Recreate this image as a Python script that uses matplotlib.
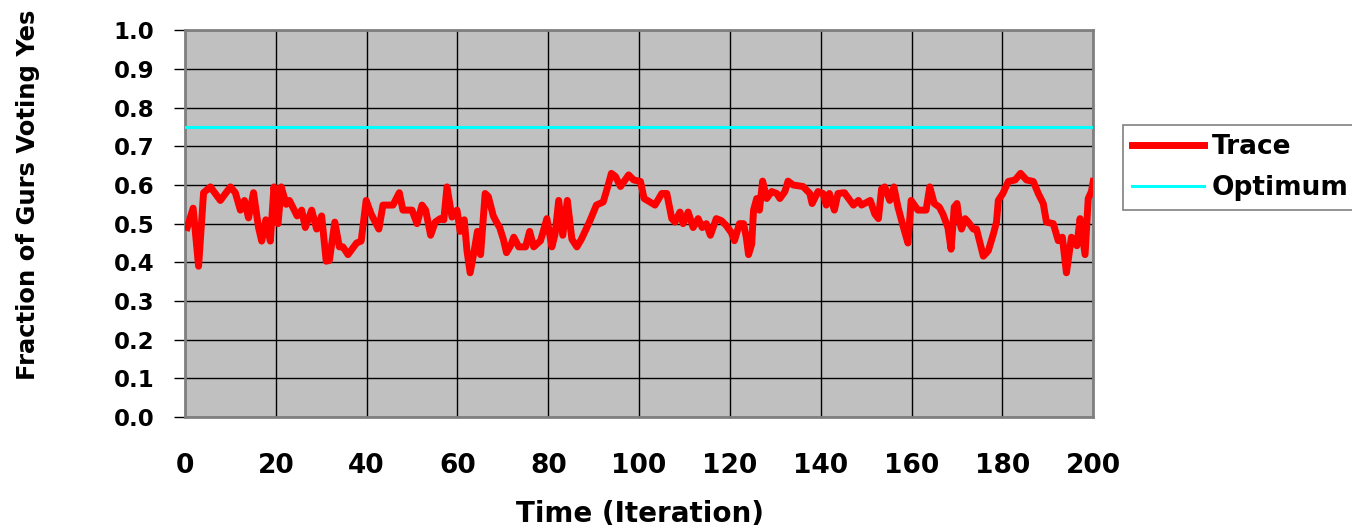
import matplotlib
matplotlib.use("Agg")
import matplotlib.pyplot as plt

# Simulation trace: fraction of gurs voting yes at each iteration
iteration = [
    0.5, 1.8, 3.0, 4.1, 5.6, 7.8, 10.0, 11.1, 12.2, 13.1, 14.0, 15.1, 16.2, 16.9,
    17.8, 18.8, 19.6, 20.5, 21.2, 22.3, 23.0,
    24.7, 25.7, 26.5, 27.9, 29.0, 30.1, 31.1, 31.8, 33.0, 34.0, 34.8, 35.9, 37.8,
    38.8, 39.9, 41.0, 42.7, 43.6, 45.8, 47.2, 48.0,
    50.0, 51.1, 52.2, 53.0, 54.1, 55.1, 56.2, 57.0, 57.7, 58.8, 59.9, 60.6, 61.5,
    62.1, 62.8, 63.7, 64.4, 65.1, 66.1, 66.8, 67.9, 68.6, 69.3, 70.1, 70.8,
    71.7, 72.4, 73.5, 75.0, 75.9, 76.8, 78.3, 79.7, 80.8, 81.5, 82.3, 83.2, 84.2,
    85.2, 86.3, 87.3, 89.2, 90.6, 92.1, 93.2, 93.9, 94.8, 95.9,
    97.7, 98.8, 100.3, 101.1, 102.4, 103.5, 105.0, 106.1, 107.2, 107.9, 109.0,
    109.7, 110.8, 111.9, 113.0, 113.9, 114.8, 115.7, 117.0, 118.1, 119.2, 120.3,
    121.0, 122.1,
    123.0, 123.6, 124.1, 124.8, 125.2, 125.9, 126.5, 127.2, 128.1, 129.2, 130.3,
    131.0, 132.1, 132.8, 133.9, 136.1, 137.6, 138.1, 139.4, 140.5, 141.2, 141.9,
    143.0, 143.8, 145.2,
    147.2, 148.3, 149.0, 150.9, 151.9, 152.7, 153.4, 154.1, 155.2, 156.1, 157.0,
    158.1, 159.2, 159.9, 161.4, 163.2, 164.0, 165.0, 166.1, 166.9, 168.0, 168.7,
    169.4,
    170.0, 170.5, 171.0, 171.8, 172.5, 173.6, 174.3, 175.8, 176.9, 178.0, 178.7,
    179.1, 180.1, 181.3, 182.8, 184.0, 185.3, 186.8, 187.9, 189.0, 189.7, 191.2,
    192.3, 193.2, 194.1, 195.2, 196.4, 197.1, 198.2, 198.9, 199.6, 200.0,
]
fraction_yes = [
    0.490, 0.540, 0.390, 0.580, 0.595, 0.560, 0.595, 0.580, 0.535, 0.560, 0.515,
    0.580, 0.490, 0.455, 0.510, 0.455, 0.595, 0.500, 0.595, 0.550, 0.560,
    0.520, 0.535, 0.490, 0.535, 0.486, 0.520, 0.403, 0.405, 0.504, 0.440, 0.440,
    0.420, 0.450, 0.455, 0.560, 0.525, 0.486, 0.548, 0.548, 0.580, 0.535,
    0.535, 0.500, 0.548, 0.535, 0.470, 0.504, 0.513, 0.510, 0.595, 0.517, 0.535,
    0.480, 0.510, 0.430, 0.373, 0.430, 0.480, 0.420, 0.578, 0.570, 0.520, 0.504,
    0.490, 0.460, 0.425,
    0.443, 0.465, 0.440, 0.440, 0.480, 0.440, 0.456, 0.513, 0.440, 0.473, 0.560,
    0.470, 0.560, 0.460, 0.440, 0.460, 0.508, 0.548, 0.556, 0.600, 0.630, 0.622,
    0.596,
    0.626, 0.613, 0.609, 0.565, 0.556, 0.548, 0.578, 0.578, 0.513, 0.504, 0.530,
    0.500, 0.530, 0.490, 0.513, 0.490, 0.500, 0.470, 0.513, 0.508, 0.495, 0.477,
    0.456, 0.500,
    0.500, 0.465, 0.420, 0.447, 0.535, 0.565, 0.535, 0.610, 0.565, 0.583, 0.578,
    0.565, 0.583, 0.610, 0.600, 0.596, 0.578, 0.552, 0.583, 0.578, 0.548, 0.578,
    0.535, 0.578, 0.580,
    0.548, 0.560, 0.548, 0.560, 0.525, 0.513, 0.590, 0.595, 0.560, 0.595, 0.543,
    0.495, 0.450, 0.560, 0.535, 0.535, 0.595, 0.552, 0.543, 0.525, 0.490, 0.434,
    0.543,
    0.552, 0.508, 0.486, 0.513, 0.504, 0.486, 0.486, 0.416, 0.430, 0.473, 0.504,
    0.560, 0.578, 0.609, 0.613, 0.630, 0.613, 0.609, 0.578, 0.552, 0.504, 0.500,
    0.456, 0.465, 0.373, 0.465, 0.443, 0.513, 0.420, 0.565, 0.583, 0.609,
]
optimum = 0.75

x_ticks = list(range(0, 201, 20))
y_ticks = [i / 10 for i in range(11)]

plt.rcParams['font.family'] = ['DejaVu Sans']
plt.rcParams['font.weight'] = 'bold'

fig = plt.figure(figsize=(13.52, 5.30), dpi=100)
ax = fig.add_axes([0.1368, 0.213, 0.6718, 0.730])
ax.set_facecolor('#c0c0c0')

ax.plot(iteration, fraction_yes, color='#ff0000', linewidth=5,
        solid_joinstyle='round', label='Trace', zorder=3)
ax.axhline(optimum, color='#00ffff', linewidth=2.2, label='Optimum', zorder=3)

ax.set_xlim(0, 200)
ax.set_ylim(0, 1.0)
ax.set_xticks(x_ticks)
ax.set_yticks(y_ticks)
ax.set_yticklabels([f'{v:.1f}' for v in y_ticks])
ax.grid(True, color='black', linewidth=1.0, zorder=1)
ax.set_axisbelow(True)

ax.tick_params(axis='y', labelsize=16.5, length=8, width=1, pad=14)
ax.tick_params(axis='x', labelsize=19, length=0, pad=26)
for lbl in ax.get_xticklabels() + ax.get_yticklabels():
    lbl.set_fontweight('bold')

for side in ['left', 'right', 'top', 'bottom']:
    ax.spines[side].set_color('#808080')
    ax.spines[side].set_linewidth(2)

# axis titles placed in figure coordinates
fig.text(640 / 1352, 1 - 514 / 530, 'Time (Iteration)', fontsize=20,
         fontweight='bold', ha='center', va='center')
fig.text(28 / 1352, 1 - 195 / 530, 'Fraction of Gurs Voting Yes', fontsize=17.5,
         fontweight='bold', rotation=90, ha='center', va='center')

leg = ax.legend(loc='upper left', bbox_to_anchor=(1.033, 0.755), fontsize=19,
                frameon=True, fancybox=False, handlelength=2.7,
                handletextpad=0.3, borderpad=0.35, labelspacing=0.55,
                borderaxespad=0)
leg.get_frame().set_edgecolor('#606060')
leg.get_frame().set_linewidth(1.2)
for txt in leg.get_texts():
    txt.set_fontweight('bold')

fig.savefig('out.png', dpi=100)
